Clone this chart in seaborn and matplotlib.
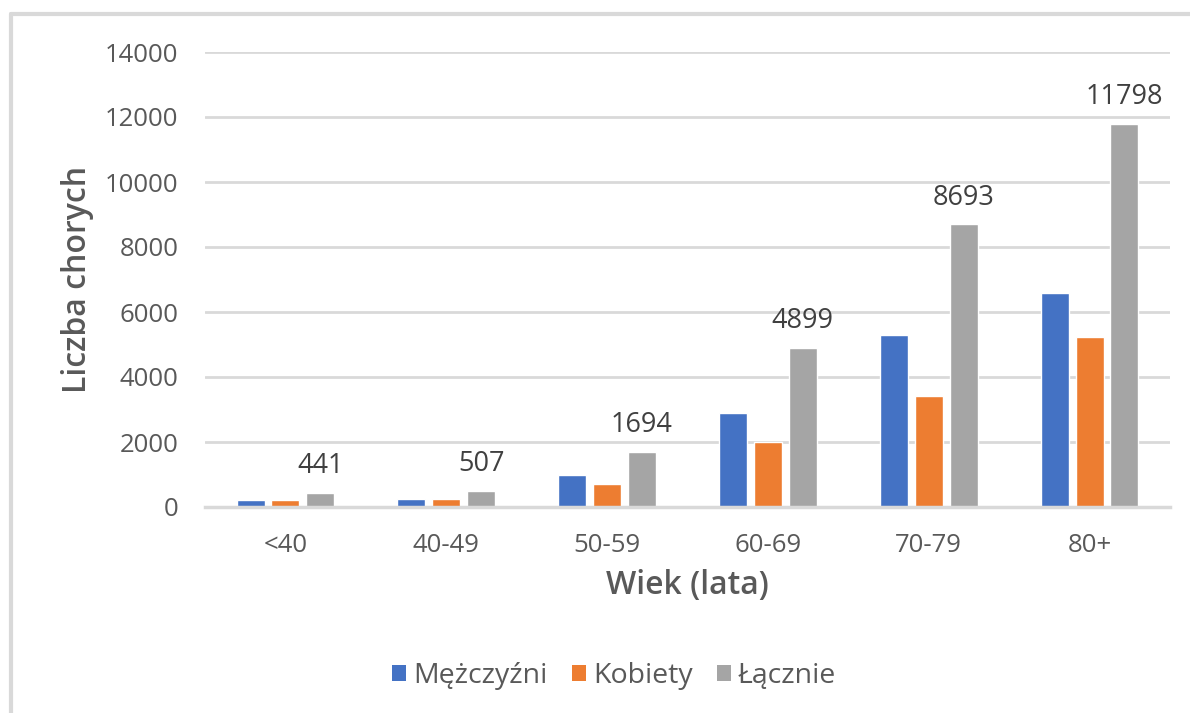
import matplotlib
matplotlib.use("Agg")
import matplotlib.pyplot as plt
from matplotlib.lines import Line2D
from matplotlib.patches import Patch
import pandas as pd
import seaborn as sns

# Age groups and patient counts
age_groups = ["<40", "40-49", "50-59", "60-69", "70-79", "80+"]
men = [220, 255, 980, 2890, 5290, 6580]
women = [221, 252, 714, 2009, 3403, 5218]
total = [441, 507, 1694, 4899, 8693, 11798]

series_names = ["Mężczyźni", "Kobiety", "Łącznie"]
colors = ["#4472C4", "#ED7D31", "#A5A5A5"]
y_ticks = [0, 2000, 4000, 6000, 8000, 10000, 12000, 14000]

rows = []
for name, values in zip(series_names, [men, women, total]):
    for grp, val in zip(age_groups, values):
        rows.append({"Wiek": grp, "Płeć": name, "Liczba": val})
df = pd.DataFrame(rows)

sns.set_theme(style="white")
plt.rcParams["font.family"] = ["Open Sans", "DejaVu Sans"]

text_color = "#595959"
grid_color = "#D9D9D9"
fs = 18.5

fig = plt.figure(figsize=(11.9, 7.13), dpi=100)
ax = fig.add_axes([205 / 1190, 1 - 507 / 713, (1170 - 205) / 1190, (507 - 52) / 713])

sns.barplot(data=df, x="Wiek", y="Liczba", hue="Płeć", order=age_groups,
            hue_order=series_names, palette=colors, width=0.65, gap=0.2,
            errorbar=None, saturation=1, ax=ax, legend=False)

# value labels on the total bars only
ax.bar_label(ax.containers[2], labels=[str(v) for v in total], padding=9,
             fontsize=19.5, color="#404040")

ax.set_ylim(0, 14000)
ax.set_yticks(y_ticks)
ax.set_yticklabels([str(t) for t in y_ticks])
ax.set_xlim(-0.5, len(age_groups) - 0.5)
ax.yaxis.grid(True, color=grid_color, linewidth=2)
ax.set_axisbelow(True)
for side in ["left", "right", "top"]:
    ax.spines[side].set_visible(False)
ax.spines["bottom"].set_color(grid_color)
ax.spines["bottom"].set_linewidth(2.5)
ax.tick_params(axis="both", length=0, labelsize=fs, labelcolor=text_color)
ax.tick_params(axis="x", pad=19)
ax.tick_params(axis="y", pad=19)

ax.set_xlabel("Wiek (lata)", fontsize=23, fontweight="semibold", color=text_color, labelpad=8)
ax.set_ylabel("Liczba chorych", fontsize=23, fontweight="semibold", color=text_color, labelpad=8)

handles = [Patch(facecolor=c, edgecolor="none") for c in colors]
fig.legend(handles, series_names, loc="center", bbox_to_anchor=(614 / 1190, 1 - 676 / 713),
           ncol=3, frameon=False, fontsize=20.5, handlelength=0.5, handleheight=0.5,
           handletextpad=0.25, columnspacing=0.85, labelcolor=text_color)

# chart-area border (left and top edges)
fig.add_artist(Line2D([11 / 1190, 11 / 1190], [0, 1 - 14 / 713], transform=fig.transFigure,
                      color=grid_color, linewidth=3))
fig.add_artist(Line2D([11 / 1190, 1], [1 - 14 / 713, 1 - 14 / 713], transform=fig.transFigure,
                      color=grid_color, linewidth=3))

fig.savefig("out.png", dpi=100, facecolor="white")
